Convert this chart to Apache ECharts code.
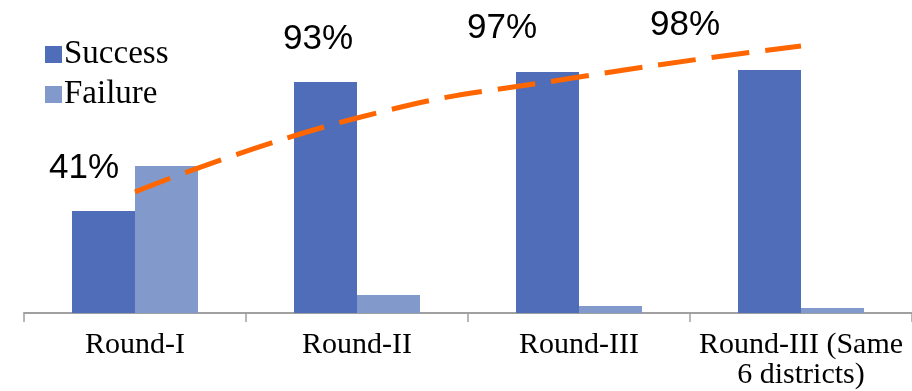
<!DOCTYPE html>
<html>
<head>
<meta charset="utf-8">
<script src="https://cdn.jsdelivr.net/npm/echarts@6/dist/echarts.min.js"></script>
<style>
  html, body { margin: 0; padding: 0; background: #fff; }
  #main { width: 912px; height: 391px; }
</style>
</head>
<body>
<div id="main"></div>
<script>
// data (bar heights in chart units)
var categories = ['Round-I', 'Round-II', 'Round-III', 'Round-III (Same\n6 districts)'];
var success = [102, 231, 241, 243];
var failure = [147, 18, 7, 5];
var trend = [121, 195, 236, 267];
var rates = ['41%', '93%', '97%', '98%'];

// where the percent texts sit (centre, px)
var rateSpots = [[84, 168], [318, 39], [502, 28], [685, 25]];

var myChart = echarts.init(document.getElementById('main'));

var option = {
  animation: false,
  legend: {
    orient: 'vertical',
    left: 40,
    top: 33,
    itemWidth: 17,
    itemHeight: 17,
    itemGap: 7,
    icon: 'rect',
    data: ['Success', 'Failure'],
    textStyle: { fontFamily: 'Liberation Serif', fontSize: 33, color: '#000', padding: [0, 0, 0, -3] }
  },
  grid: { left: 24, right: 0, top: 13, bottom: 78 },
  xAxis: {
    type: 'category',
    data: categories,
    axisLine: { lineStyle: { color: '#a0a0a0', width: 2 } },
    axisTick: { show: true, interval: 0, length: 9, lineStyle: { color: '#a0a0a0', width: 1.5 } },
    axisLabel: {
      interval: 0,
      fontFamily: 'Liberation Serif',
      fontSize: 30,
      lineHeight: 30,
      color: '#000',
      margin: 17
    }
  },
  yAxis: {
    type: 'value',
    min: 0,
    max: 300,
    show: false,
    splitLine: { show: false }
  },
  series: [
    {
      name: 'Success',
      type: 'bar',
      data: success,
      barWidth: 63,
      barGap: '0%',
      itemStyle: { color: '#4f6db8' }
    },
    {
      name: 'Failure',
      type: 'bar',
      data: failure,
      barWidth: 63,
      itemStyle: { color: '#8199cb' }
    },
    {
      name: 'Trend',
      type: 'line',
      data: trend,
      symbol: 'none',
      smooth: true,
      lineStyle: { color: '#ff6600', width: 5, type: [38, 16] },
      z: 5
    }
  ],
  graphic: rates.map(function (t, i) {
    return {
      type: 'text',
      x: rateSpots[i][0],
      y: rateSpots[i][1],
      style: {
        text: t,
        fontFamily: 'Liberation Sans',
        fontSize: 35,
        fill: '#000',
        align: 'center',
        verticalAlign: 'middle'
      }
    };
  })
};

myChart.setOption(option);
</script>
</body>
</html>
